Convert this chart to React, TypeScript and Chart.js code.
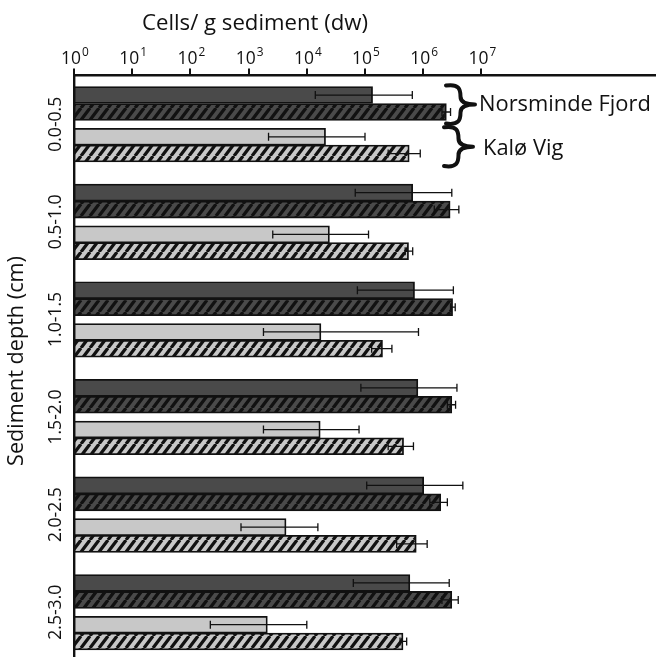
import React, { useEffect, useRef } from 'react';
import Chart from 'chart.js/auto';

// ---------- data ----------
const depths = ['0.0-0.5', '0.5-1.0', '1.0-1.5', '1.5-2.0', '2.0-2.5', '2.5-3.0'];
const tickExponents = [0, 1, 2, 3, 4, 5, 6, 7];
const siteNames = ['Norsminde Fjord', 'Kalø Vig'];
const xTitle = 'Cells/ g sediment (dw)';
const yTitle = 'Sediment depth (cm)';

// Norsminde Fjord – solid bars
const nfSolid = [1.35e5, 6.6e5, 7.1e5, 8.1e5, 1.02e6, 5.9e5];
const nfSolidLow = [1.4e4, 6.8e4, 7.4e4, 8.5e4, 1.07e5, 6.3e4];
const nfSolidHigh = [6.5e5, 3.1e6, 3.3e6, 3.8e6, 4.8e6, 2.8e6];
// Norsminde Fjord – hatched bars
const nfHatched = [2.5e6, 2.9e6, 3.2e6, 3.1e6, 2.0e6, 3.1e6];
const nfHatchedLow = [2.1e6, 1.55e6, 2.95e6, 2.6e6, 1.3e6, 2.1e6];
const nfHatchedHigh = [2.95e6, 4.1e6, 3.55e6, 3.6e6, 2.6e6, 4.0e6];
// Kalø Vig – solid bars
const kvSolid = [2.1e4, 2.45e4, 1.75e4, 1.7e4, 4.4e3, 2.1e3];
const kvSolidLow = [2.2e3, 2.6e3, 1.8e3, 1.8e3, 7.4e2, 2.2e2];
const kvSolidHigh = [1.0e5, 1.15e5, 8.3e5, 7.9e4, 1.55e4, 1.0e4];
// Kalø Vig – hatched bars
const kvHatched = [5.75e5, 5.6e5, 2.0e5, 4.6e5, 7.6e5, 4.5e5];
const kvHatchedLow = [2.5e5, 4.9e5, 1.3e5, 2.5e5, 3.5e5, 4.0e5];
const kvHatchedHigh = [8.9e5, 6.6e5, 2.9e5, 6.8e5, 1.17e6, 5.2e5];

// ---------- styles ----------
const DARK = '#4a4a4a';
const LIGHT = '#c8c8c8';
const INK = '#111111';
const FONT = '"Open Sans", "Noto Sans", sans-serif';

function hatch(bg: string): CanvasPattern | string {
  const w = 9, h = 12;
  const c = document.createElement('canvas');
  c.width = w; c.height = h;
  const g = c.getContext('2d');
  if (!g) return bg;
  g.fillStyle = bg;
  g.fillRect(0, 0, w, h);
  g.strokeStyle = INK;
  g.lineWidth = 3.2;
  g.beginPath();
  for (let k = -1; k <= 1; k++) {
    g.moveTo(k * w, h);
    g.lineTo(k * w + w, 0);
  }
  g.stroke();
  const p = g.createPattern(c, 'repeat');
  return p || bg;
}

function fitSize(ctx: CanvasRenderingContext2D, text: string, target: number): number {
  ctx.font = `100px ${FONT}`;
  return (100 * target) / ctx.measureText(text).width;
}

const errorBars = {
  id: 'errorBars',
  afterDatasetsDraw(chart: any) {
    const ctx = chart.ctx;
    const xs = chart.scales.x;
    chart.data.datasets.forEach((ds: any, di: number) => {
      const meta = chart.getDatasetMeta(di);
      meta.data.forEach((bar: any, i: number) => {
        const x1 = xs.getPixelForValue(ds.errLow[i]);
        const x2 = xs.getPixelForValue(ds.errHigh[i]);
        const y = bar.y;
        ctx.save();
        ctx.strokeStyle = INK;
        ctx.lineWidth = 1.3;
        ctx.beginPath();
        ctx.moveTo(x1, y); ctx.lineTo(x2, y);
        ctx.moveTo(x1, y - 4); ctx.lineTo(x1, y + 4);
        ctx.moveTo(x2, y - 4); ctx.lineTo(x2, y + 4);
        ctx.stroke();
        ctx.restore();
      });
    });
  },
};

function drawBrace(ctx: CanvasRenderingContext2D, x0: number, yTop: number, yBot: number, W: number) {
  const ym = (yTop + yBot) / 2;
  const h = yBot - yTop;
  ctx.save();
  ctx.strokeStyle = INK;
  ctx.lineWidth = 4;
  ctx.lineCap = 'round';
  ctx.lineJoin = 'round';
  ctx.beginPath();
  ctx.moveTo(x0, yTop + 1);
  ctx.bezierCurveTo(x0 + W * 0.45, yTop - 1, x0 + W * 0.5, yTop + h * 0.12, x0 + W * 0.5, yTop + h * 0.3);
  ctx.bezierCurveTo(x0 + W * 0.5, ym - 3, x0 + W * 0.62, ym, x0 + W, ym);
  ctx.bezierCurveTo(x0 + W * 0.62, ym, x0 + W * 0.5, ym + 3, x0 + W * 0.5, yBot - h * 0.3);
  ctx.bezierCurveTo(x0 + W * 0.5, yBot - h * 0.12, x0 + W * 0.45, yBot + 1, x0, yBot - 1);
  ctx.stroke();
  ctx.restore();
}

const annotations = {
  id: 'annotations',
  afterDraw(chart: any) {
    const ctx: CanvasRenderingContext2D = chart.ctx;
    const xs = chart.scales.x;
    const ys = chart.scales.y;
    ctx.save();
    ctx.fillStyle = INK;

    // x tick labels 10^n
    const base = fitSize(ctx, '10', 20);
    const expSize = base * 0.68;
    tickExponents.forEach((e) => {
      const px = xs.getPixelForValue(Math.pow(10, e));
      ctx.font = `${base}px ${FONT}`;
      const w10 = ctx.measureText('10').width;
      ctx.font = `${expSize}px ${FONT}`;
      const we = ctx.measureText(String(e)).width;
      const start = px + 1 - (w10 + 1 + we) / 2;
      ctx.textAlign = 'left';
      ctx.textBaseline = 'alphabetic';
      ctx.font = `${base}px ${FONT}`;
      ctx.fillText('10', start, 64);
      ctx.font = `${expSize}px ${FONT}`;
      ctx.fillText(String(e), start + w10 + 1, 56);
    });

    // x title
    ctx.font = `${fitSize(ctx, xTitle, 226)}px ${FONT}`;
    ctx.textAlign = 'center';
    ctx.fillText(xTitle, 255, 30);

    // y tick labels (rotated)
    const ySize = fitSize(ctx, depths[0], 55);
    depths.forEach((d, i) => {
      const py = ys.getPixelForValue(i);
      ctx.save();
      ctx.translate(56, py);
      ctx.rotate(-Math.PI / 2);
      ctx.font = `${ySize}px ${FONT}`;
      ctx.textAlign = 'center';
      ctx.textBaseline = 'middle';
      ctx.fillText(d, 0, 0);
      ctx.restore();
    });

    // y title
    ctx.save();
    ctx.translate(17, 361);
    ctx.rotate(-Math.PI / 2);
    ctx.font = `${fitSize(ctx, yTitle, 210)}px ${FONT}`;
    ctx.textAlign = 'center';
    ctx.textBaseline = 'middle';
    ctx.fillText(yTitle, 0, 0);
    ctx.restore();

    // braces + site names (tied to first depth group)
    const b0 = chart.getDatasetMeta(0).data[0];
    const b1 = chart.getDatasetMeta(1).data[0];
    const b2 = chart.getDatasetMeta(2).data[0];
    const b3 = chart.getDatasetMeta(3).data[0];
    const half = 8.5;
    drawBrace(ctx, 446, b0.y - half - 2, b1.y + half + 4, 29);
    drawBrace(ctx, 444, b2.y - half - 2, b3.y + half + 5, 29);
    const nameSize = fitSize(ctx, siteNames[0], 172);
    ctx.font = `${nameSize}px ${FONT}`;
    ctx.textAlign = 'left';
    ctx.textBaseline = 'middle';
    ctx.fillText(siteNames[0], 479, (b0.y + b1.y) / 2 + 1);
    ctx.fillText(siteNames[1], 483, (b2.y + b3.y) / 2 + 4);
    ctx.restore();
  },
};

export default function App() {
  const ref = useRef<HTMLCanvasElement | null>(null);

  useEffect(() => {
    const canvas = ref.current;
    if (!canvas) return;
    const darkHatch = hatch(DARK);
    const lightHatch = hatch(LIGHT);
    const common = { borderColor: INK, borderWidth: 1.8, borderSkipped: false, maxBarThickness: 17 };
    const chart = new Chart(canvas, {
      type: 'bar',
      data: {
        labels: depths,
        datasets: [
          { ...common, label: siteNames[0], data: nfSolid, backgroundColor: DARK, barThickness: 19.5, errLow: nfSolidLow, errHigh: nfSolidHigh } as any,
          { ...common, label: siteNames[0] + ' (hatched)', data: nfHatched, backgroundColor: darkHatch, barThickness: 24.6, errLow: nfHatchedLow, errHigh: nfHatchedHigh } as any,
          { ...common, label: siteNames[1], data: kvSolid, backgroundColor: LIGHT, barThickness: 25, errLow: kvSolidLow, errHigh: kvSolidHigh } as any,
          { ...common, label: siteNames[1] + ' (hatched)', data: kvHatched, backgroundColor: lightHatch, barThickness: 19.5, errLow: kvHatchedLow, errHigh: kvHatchedHigh } as any,
        ],
      },
      options: {
        indexAxis: 'y',
        responsive: false,
        animation: false,
        devicePixelRatio: 1,
        layout: { padding: 0 },
        plugins: { legend: { display: false }, tooltip: { enabled: false }, title: { display: false } },
        scales: {
          x: {
            type: 'logarithmic',
            position: 'top',
            min: 1,
            max: 1e10,
            afterBuildTicks: (s: any) => {
              s.ticks = tickExponents.map((e) => ({ value: Math.pow(10, e) }));
            },
            afterFit: (s: any) => { s.height = 75.5; },
            ticks: { display: false },
            grid: { display: true, drawOnChartArea: false, drawTicks: true, tickLength: 7, color: INK, lineWidth: 2 },
            border: { display: true, color: INK, width: 2.4 },
          },
          y: {
            type: 'category',
            afterFit: (s: any) => { s.width = 74; },
            ticks: { display: false },
            grid: { display: true, drawOnChartArea: false, drawTicks: false, color: INK },
            border: { display: true, color: INK, width: 2.4 },
          },
        },
      } as any,
      plugins: [errorBars, annotations],
    });
    return () => chart.destroy();
  }, []);

  return (
    <div style={{ position: 'fixed', left: 0, top: 0, width: 656, height: 661, background: '#fff' }}>
      <canvas ref={ref} width={656} height={661} style={{ display: 'block' }} />
    </div>
  );
}
